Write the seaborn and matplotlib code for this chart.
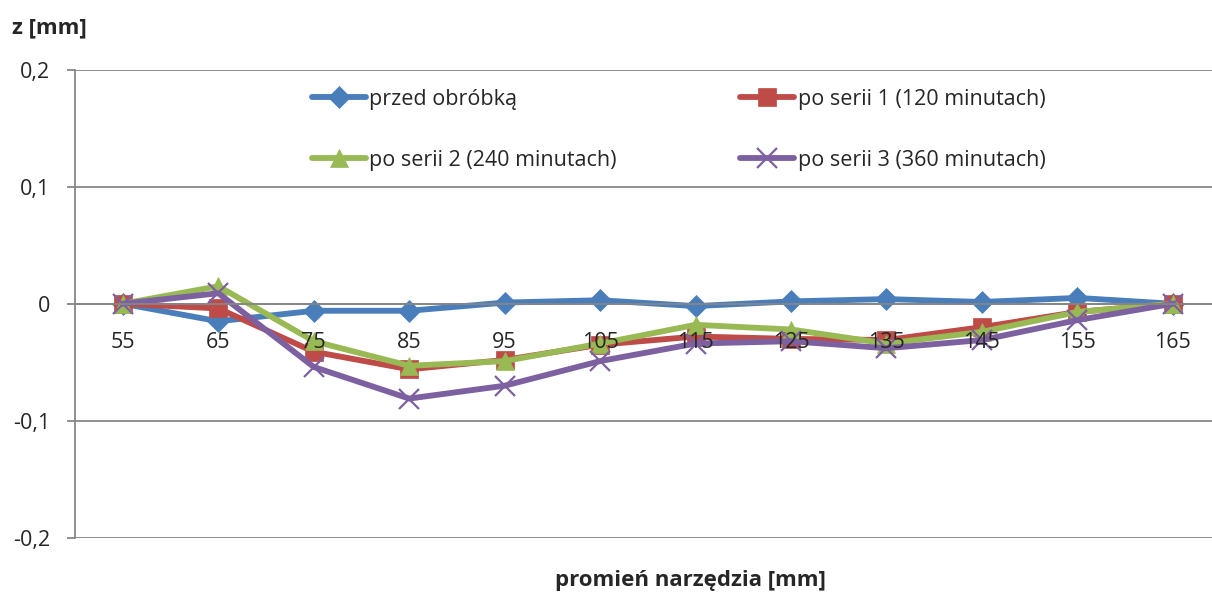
import matplotlib
matplotlib.use("Agg")
import pandas as pd
import matplotlib.pyplot as plt
import seaborn as sns

# promień narzędzia [mm]
radius = [55, 65, 75, 85, 95, 105, 115, 125, 135, 145, 155, 165]

# z [mm]
przed = [0.0, -0.015, -0.006, -0.006, 0.001, 0.003, -0.002, 0.002, 0.004, 0.0015, 0.005, 0.0]
seria1 = [0.0, -0.004, -0.041, -0.056, -0.048, -0.035, -0.028, -0.030, -0.031, -0.020, -0.007, 0.0]
seria2 = [0.0, 0.015, -0.032, -0.053, -0.049, -0.034, -0.018, -0.022, -0.034, -0.024, -0.007, 0.0]
seria3 = [0.0, 0.009, -0.054, -0.081, -0.070, -0.049, -0.034, -0.032, -0.038, -0.031, -0.014, 0.0]

labels = ['przed obróbką', 'po serii 1 (120 minutach)',
          'po serii 2 (240 minutach)', 'po serii 3 (360 minutach)']
colors = ['#4A7EBB', '#BE4B48', '#98B954', '#7D60A0']
markers = ['D', 's', '^', 'x']
msizes = [11.5, 13.5, 13, 14]

sns.set_style('white')
plt.rcParams['font.family'] = ['Open Sans', 'DejaVu Sans']

fig = plt.figure(figsize=(12.12, 5.95), dpi=100)
ax = fig.add_axes([0.062, 0.096, 0.945, 0.787])

pos = list(range(len(radius)))
series = [przed, seria1, seria2, seria3]
for vals, lab, col, mk, ms in zip(series, labels, colors, markers, msizes):
    df = pd.DataFrame({'pos': pos, 'z': vals})
    sns.lineplot(data=df, x='pos', y='z', ax=ax, color=col, linewidth=4.2,
                 marker=mk, markersize=ms, markeredgecolor=col,
                 markeredgewidth=1.6 if mk == 'x' else 0.5, label=lab)

# spines first: moving the bottom spine resets the ticks
for s in ['top', 'right']:
    ax.spines[s].set_visible(False)
ax.spines['bottom'].set_position(('data', 0))
ax.spines['bottom'].set_color('#868686')
ax.spines['bottom'].set_linewidth(1.3)
ax.spines['left'].set_color('#868686')
ax.spines['left'].set_linewidth(1.3)

ax.set_xlim(-0.5, 11.5)
ax.set_ylim(-0.2, 0.2)
ax.set_yticks([-0.2, -0.1, 0, 0.1, 0.2])
ax.set_yticklabels(['-0,2', '-0,1', '0', '0,1', '0,2'], fontsize=15.5)
ax.set_xticks(pos)
ax.set_xticklabels([str(r) for r in radius], fontsize=15.5)

ax.grid(axis='y', color='#868686', linewidth=1.3)
ax.set_axisbelow(True)
ax.xaxis.set_zorder(5)  # category labels sit on top of the lines
ax.tick_params(axis='y', left=True, length=6, width=1.3, color='#868686', pad=12)
ax.tick_params(axis='x', bottom=False, pad=17)

ax.set_xlabel('')
ax.set_ylabel('')
fig.text(0.01, 0.953, 'z [mm]', fontsize=16, fontweight='bold', va='center')
fig.text(0.57, 0.025, 'promień narzędzia [mm]', fontsize=16, fontweight='bold',
         ha='center', va='center')

h, l = ax.get_legend_handles_labels()
order = [0, 2, 1, 3]
ax.legend([h[i] for i in order], [l[i] for i in order], ncol=2, frameon=False,
          loc='upper left', bbox_to_anchor=(0.19, 1.0), fontsize=15.5,
          handlelength=2.5, handletextpad=0.15, labelspacing=1.85,
          columnspacing=5.75)

fig.savefig('out.png', dpi=100)
